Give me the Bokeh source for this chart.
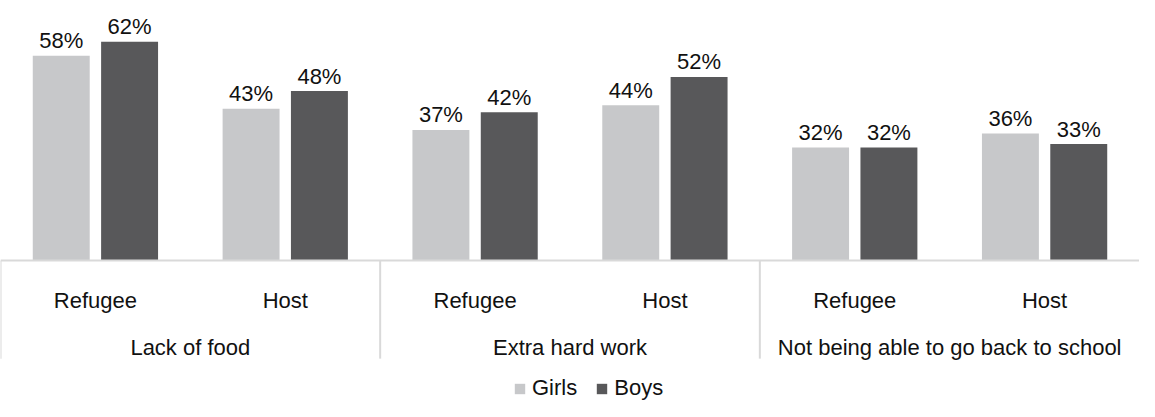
from bokeh.plotting import figure
from bokeh.models import FactorRange, Range1d, Span, Legend, LegendItem, ColumnDataSource
from bokeh.transform import dodge
from bokeh.core.properties import value
from bokeh.embed import file_html
from bokeh.resources import INLINE

# ---- data ----
categories = ["Lack of food", "Extra hard work", "Not being able to go back to school"]
groups = ["Refugee", "Host"]
series = ["Girls", "Boys"]
girls = [58, 43, 37, 44, 32, 36]
boys = [62, 48, 42, 52, 32, 33]

# ---- style ----
FONT = "Liberation Sans"
FS = "22px"
GIRL_C = "#c7c8ca"
BOY_C = "#58585a"
LINE_C = "#d9d9d9"
TEXT_C = "#111111"

factors = [(c, g) for c in categories for g in groups]
x_range = FactorRange(*factors, factor_padding=0, subgroup_padding=0,
                      group_padding=0, range_padding=0)

p = figure(x_range=x_range, y_range=Range1d(-39.94, 73.65),
           width=1139, height=401, output_backend="svg", toolbar_location=None,
           x_axis_location=None, y_axis_location=None, min_border=0)
p.outline_line_color = None
p.background_fill_color = "white"
p.border_fill_color = "white"
p.grid.grid_line_color = None
p.grid.visible = False

src = ColumnDataSource(dict(
    x=factors, girls=girls, boys=boys,
    girls_lbl=[f"{v}%" for v in girls], boys_lbl=[f"{v}%" for v in boys],
    sub=[g for _, g in factors],
))

r1 = p.vbar(x=dodge("x", -0.18, range=x_range), top="girls", width=0.3, bottom=0,
            source=src, fill_color=GIRL_C, line_color=None)
r2 = p.vbar(x=dodge("x", 0.18, range=x_range), top="boys", width=0.3, bottom=0,
            source=src, fill_color=BOY_C, line_color=None)

common = dict(text_font=value(FONT), text_font_size=FS, text_color=TEXT_C,
              text_align="center", text_baseline="alphabetic")
p.text(x=dodge("x", -0.18, range=x_range), y="girls", text="girls_lbl",
       y_offset=-15, source=src, **common)
p.text(x=dodge("x", 0.18, range=x_range), y="boys", text="boys_lbl",
       y_offset=-15, source=src, **common)

# sub-group labels
p.text(x="x", y=0, text="sub", y_offset=40, source=src, **common)

# category labels
cat_src = ColumnDataSource(dict(x=categories, lbl=categories))
p.text(x="x", y=0, text="lbl", y_offset=87, source=cat_src, **common)

# separators
sep_src = ColumnDataSource(dict(x=[(c, groups[0]) for c in categories]))
p.segment(x0=dodge("x", -0.5, range=x_range), y0=0,
          x1=dodge("x", -0.5, range=x_range), y1=-27.8,
          source=sep_src, line_color=LINE_C, line_width=2)

# axis baseline
p.add_layout(Span(location=0, dimension="width", line_color=LINE_C, line_width=2))

legend = Legend(items=[LegendItem(label=series[0], renderers=[r1]),
                       LegendItem(label=series[1], renderers=[r2])],
                orientation="horizontal", location=(513, 0), padding=0, margin=0,
                spacing=18, label_standoff=6, glyph_width=13, glyph_height=13,
                label_text_font=FONT, label_text_font_size=FS, label_text_color=TEXT_C,
                border_line_color=None, background_fill_alpha=0)
p.add_layout(legend)

open("out.html", "w").write(file_html(p, INLINE))
